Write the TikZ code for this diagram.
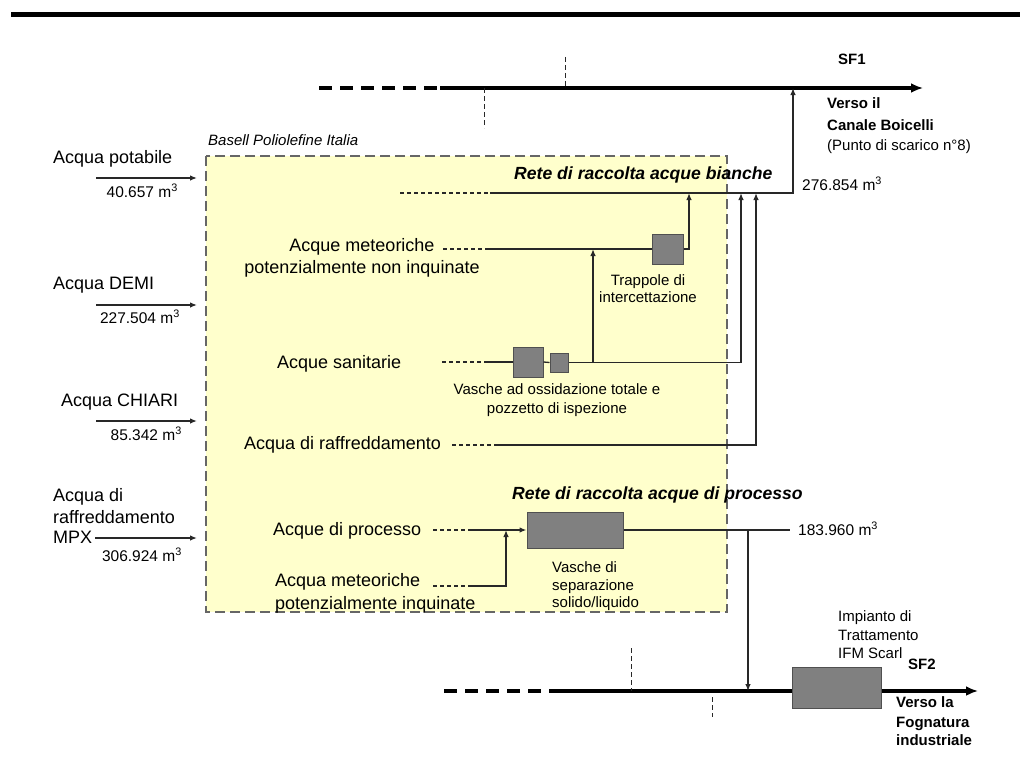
\documentclass[tikz,border=0pt]{standalone}
\usepackage{fontspec}
\setmainfont{Liberation Sans}
\usetikzlibrary{arrows.meta}
\definecolor{plantyellow}{RGB}{255,255,204}
\definecolor{tankgray}{RGB}{128,128,128}
\definecolor{tankedge}{RGB}{80,80,80}
\definecolor{linegray}{RGB}{40,40,40}
\begin{document}
\begin{tikzpicture}[x=1pt,y=-1pt,
  big/.style={inner sep=0pt,font=\fontsize{18}{21}\selectfont},
  amt/.style={inner sep=0pt,font=\fontsize{15.5}{18}\selectfont},
  sm/.style={inner sep=0pt,font=\fontsize{15}{18}\selectfont},
  smb/.style={inner sep=0pt,font=\fontsize{15}{18}\selectfont\bfseries},
  smi/.style={inner sep=0pt,font=\fontsize{15}{18}\selectfont\itshape},
  rete/.style={inner sep=0pt,font=\fontsize{17.6}{20}\selectfont\bfseries\itshape},
  thickline/.style={line width=3.4pt,draw=black},
  thickdash/.style={line width=3.4pt,draw=black,dash pattern=on 13pt off 8pt},
  conn/.style={line width=1.3pt,draw=linegray},
  arr/.style={conn,-{Latex[length=7pt,width=5.5pt]}},
  bigarr/.style={thickline,-{Latex[length=12pt,width=10pt]}},
  lead/.style={line width=1.1pt,draw=linegray,dash pattern=on 4pt off 3pt},
  vdash/.style={line width=1pt,draw=linegray,dash pattern=on 5pt off 3pt},
  tank/.style={draw=tankedge,fill=tankgray,line width=1pt,inner sep=0pt},
  plantbox/.style={fill=plantyellow,draw=black!60,line width=1.4pt,dash pattern=on 10pt off 5pt}
]
\path[use as bounding box] (0,0) rectangle (1020,776);
\fill[white] (0,0) rectangle (1020,776);
% top rule
\fill[black] (11,12) rectangle (1020,17);

% plant area
\draw[plantbox] (206,156) rectangle (727,612);
\node[smi,anchor=base west] (basell) at (208,145) {Basell Poliolefine Italia};

% ---------- SF1 ----------
\coordinate (sf1a) at (319,88);
\coordinate (sf1b) at (440,88);
\coordinate (sf1e) at (923,88);
\coordinate (sf1j) at (793,88);
\draw[thickdash] (sf1a) -- (sf1b);
\draw[bigarr] (sf1b) -- (sf1e);
\coordinate (v1a) at (484,88); \coordinate (v1b) at (484,128);
\coordinate (v2a) at (565,57); \coordinate (v2b) at (565,88);
\draw[vdash] (v1a) -- (v1b);
\draw[vdash] (v2a) -- (v2b);
\node[smb,anchor=base west] (sf1) at (838,65) {SF1};
\node[smb,anchor=base west] (verso1) at (827,108) {Verso il};
\node[smb,anchor=base west] (canale) at (827,130) {Canale Boicelli};
\node[sm,anchor=base west] (punto) at (827,150) {(Punto di scarico n°8)};

% ---------- inputs ----------
\node[big,anchor=base west] (potab) at (53,163) {Acqua potabile};
\coordinate (in1a) at (96,178); \coordinate (in1b) at (197,178);
\draw[arr] (in1a) -- (in1b);
\node[amt,anchor=base east] (q1) at (178,197) {40.657 m\textsuperscript{3}};

\node[big,anchor=base west] (demi) at (53,289) {Acqua DEMI};
\coordinate (in2a) at (96,305); \coordinate (in2b) at (197,305);
\draw[arr] (in2a) -- (in2b);
\node[amt,anchor=base east] (q2) at (180,323) {227.504 m\textsuperscript{3}};

\node[big,anchor=base west] (chiari) at (61,406) {Acqua CHIARI};
\coordinate (in3a) at (96,421); \coordinate (in3b) at (197,421);
\draw[arr] (in3a) -- (in3b);
\node[amt,anchor=base east] (q3) at (182,440) {85.342 m\textsuperscript{3}};

\node[big,anchor=base west] (mpx1) at (53,501) {Acqua di};
\node[big,anchor=base west] (mpx2) at (53,523) {raffreddamento};
\node[big,anchor=base west] (mpx3) at (53,543) {MPX};
\coordinate (in4a) at (95,538); \coordinate (in4b) at (197,538);
\draw[arr] (in4a) -- (in4b);
\node[amt,anchor=base east] (q4) at (182,561) {306.924 m\textsuperscript{3}};

% ---------- rete acque bianche ----------
\node[rete,anchor=base west] (retebianche) at (514,179) {Rete di raccolta acque bianche};
\coordinate (wA) at (400,193);
\coordinate (wB) at (490,193);
\coordinate (wC) at (793,193);
\coordinate (w689) at (689,193);
\coordinate (w741) at (741,193);
\coordinate (w756) at (756,193);
\draw[lead] (wA) -- (wB);
\draw[arr] (wB) -- (wC) -- (sf1j);
\node[amt,anchor=base west] (q5) at (802,190) {276.854 m\textsuperscript{3}};

% meteoriche non inquinate
\node[big,anchor=base] (met1) at (362,251) {Acque meteoriche};
\node[big,anchor=base] (met2) at (362,273) {potenzialmente non inquinate};
\node[tank,minimum width=31pt,minimum height=30pt] (trap) at (667.5,249) {};
\coordinate (m1a) at (443,249); \coordinate (m1b) at (485,249);
\draw[lead] (m1a) -- (m1b);
\draw[conn] (m1b) -- (trap.west);
\draw[arr] (trap.east) -| (w689);
\node[sm,anchor=base] (trap1) at (648,285) {Trappole di};
\node[sm,anchor=base] (trap2) at (648,302) {intercettazione};

% sanitarie
\node[big,anchor=base west] (sanit) at (277,368) {Acque sanitarie};
\node[tank,minimum width=30pt,minimum height=30pt] (ox1) at (528,362) {};
\node[tank,minimum width=18pt,minimum height=19pt] (ox2) at (559,362.5) {};
\coordinate (s1a) at (442,362); \coordinate (s1b) at (485,362);
\coordinate (j593) at (593,362); \coordinate (m593) at (593,249);
\draw[lead] (s1a) -- (s1b);
\draw[conn] (s1b) -- (ox1.west);
\draw[conn] (ox1.east) -- (ox2.west);
\draw[arr] (ox2.east) -| (w741);
\draw[arr] (j593) -- (m593);
\node[sm,anchor=base] (ox1t) at (557,394) {Vasche ad ossidazione totale e};
\node[sm,anchor=base] (ox2t) at (557,413) {pozzetto di ispezione};

% raffreddamento
\node[big,anchor=base west] (raffr) at (244,449) {Acqua di raffreddamento};
\coordinate (r1a) at (452,445); \coordinate (r1b) at (495,445);
\draw[lead] (r1a) -- (r1b);
\draw[arr] (r1b) -| (w756);

% ---------- rete acque di processo ----------
\node[rete,anchor=base west] (reteproc) at (512,499) {Rete di raccolta acque di processo};
\node[tank,minimum width=96pt,minimum height=36pt] (sep) at (575,530) {};
\node[big,anchor=base west] (proc) at (273,535) {Acque di processo};
\coordinate (p1a) at (433,530); \coordinate (p1b) at (470,530);
\coordinate (p506) at (506,530);
\draw[lead] (p1a) -- (p1b);
\draw[arr] (p1b) -- (sep.west);
\node[big,anchor=base west] (minq1) at (275,586) {Acqua meteoriche};
\node[big,anchor=base west] (minq2) at (275,609) {potenzialmente inquinate};
\coordinate (mq1a) at (433,586); \coordinate (mq1b) at (470,586);
\draw[lead] (mq1a) -- (mq1b);
\draw[arr] (mq1b) -| (p506);
\node[sm,anchor=base west] (sep1) at (552,572) {Vasche di};
\node[sm,anchor=base west] (sep2) at (552,590) {separazione};
\node[sm,anchor=base west] (sep3) at (552,607) {solido/liquido};
\coordinate (pE) at (790,530);
\coordinate (j748) at (748,530);
\draw[conn] (sep.east) -- (pE);
\node[amt,anchor=base west] (q6) at (798,535) {183.960 m\textsuperscript{3}};

% ---------- SF2 ----------
\coordinate (sf2a) at (444,691);
\coordinate (sf2b) at (555,691);
\coordinate (sf2e) at (978,691);
\coordinate (sf2j) at (748,691);
\draw[thickdash] (sf2a) -- (sf2b);
\draw[bigarr] (sf2b) -- (sf2e);
\draw[arr,line width=1.1pt] (j748) -- (sf2j);
\coordinate (v3a) at (631,648); \coordinate (v3b) at (631,691);
\coordinate (v4a) at (712,697); \coordinate (v4b) at (712,717);
\draw[vdash] (v3a) -- (v3b);
\draw[vdash] (v4a) -- (v4b);
\node[tank,minimum width=89pt,minimum height=41pt] (ifm) at (836.5,687.5) {};
\node[sm,anchor=base west] (ifm1) at (838,621) {Impianto di};
\node[sm,anchor=base west] (ifm2) at (838,640) {Trattamento};
\node[sm,anchor=base west] (ifm3) at (838,658) {IFM Scarl};
\node[smb,anchor=base west] (sf2) at (908,669) {SF2};
\node[smb,anchor=base west] (verso2) at (896,707) {Verso la};
\node[smb,anchor=base west] (fogn) at (896,727) {Fognatura};
\node[smb,anchor=base west] (indu) at (896,745) {industriale};
\end{tikzpicture}
\end{document}
